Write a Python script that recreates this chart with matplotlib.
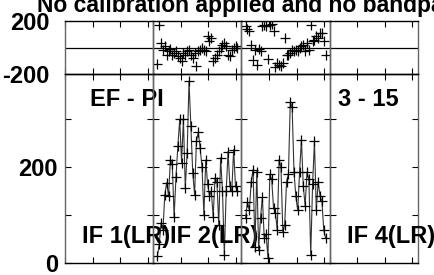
import numpy as np
import matplotlib
matplotlib.use("Agg")
import matplotlib.pyplot as plt

plt.rcParams["font.family"] = ["Liberation Sans", "DejaVu Sans"]
plt.rcParams["font.weight"] = "bold"

# === DATA
title = "No calibration applied and no bandpass applied"
if_labels = ["IF 1(LR)", "IF 2(LR)", "", "IF 4(LR)"]

# IF 2 amplitude and phase
amp_if2 = [14, 40, 84, 70, 143, 168, 140, 216, 206, 97, 180, 244, 300, 210, 300,
           157, 230, 380, 286, 189, 143, 255, 273, 240, 200, 101, 215, 165, 140,
           150, 97, 178, 170, 80, 220, 150, 17, 150, 233, 160, 150, 237, 160, 150]
phs_if2 = [-125, 172, 34, -16, 10, -54, -30, -10, -54, -40, -30, -65, -79, -102,
           -45, -54, -30, -16, -54, -79, -45, -140, -30, -16, -5, -16, -30, 87,
           49, 70, -102, -79, -54, -30, -5, 21, 34, 10, -54, -65, -16, -5, 10, 0]

# IF 3 amplitude and phase
amp_if3 = [95, 128, 110, 170, 195, 34, 191, 27, 95, 137, 52, 60, 10, 185, 175,
           115, 105, 69, 216, 200, 65, 80, 170, 185, 336, 326, 190, 139, 110,
           190, 258, 160, 120, 190, 175, 17, 165, 254, 110, 170, 140, 130, 69, 52]
phs_if3 = [160, 140, 122, 21, -92, -16, -130, -10, -30, 160, 172, 160, -90, 172,
           178, 122, -150, -120, -130, -143, -120, 72, -60, -60, -45, -16, -30,
           -16, -30, -5, 10, 21, -30, 34, -16, 172, 49, 60, 87, 72, 110, 110, 49, -54]

amps = [None, amp_if2, amp_if3, None]
phases = [None, phs_if2, phs_if3, None]

# === FIGURE
fig = plt.figure(figsize=(4.35, 2.75), dpi=100)
W, H = 435.0, 275.0
x0, pw = 65.0, 88.25
top_y0, top_y1 = 21.0, 74.0
bot_y1 = 263.0

def style(ax):
    ax.tick_params(direction="in", top=True, right=True, length=4, width=0.8,
                   labelsize=17, pad=5)
    for s in ["left", "right"]:
        ax.spines[s].set_color("#666666")
    for s in ax.spines.values():
        s.set_linewidth(1.0)

for i in range(4):
    left = (x0 + i * pw) / W
    # Phase panel
    axp = fig.add_axes([left, 1 - top_y1 / H, pw / W, (top_y1 - top_y0) / H],
                       facecolor="none")
    axp.set_xlim(0, 32)
    axp.set_ylim(-200, 200)
    axp.axhline(0, color="k", lw=0.9)
    axp.set_xticks([0, 10, 20, 30])
    axp.set_xticklabels([])
    axp.set_yticks([-200, 200])
    if i == 0:
        axp.set_yticklabels(["-200", "200"], fontweight="bold")
    else:
        axp.set_yticklabels([])
    style(axp)
    axp.tick_params(axis="y", length=0, pad=11)

    # Amplitude panel
    axa = fig.add_axes([left, 1 - bot_y1 / H, pw / W, (bot_y1 - top_y1) / H],
                       facecolor="none")
    axa.set_xlim(0, 32)
    axa.set_ylim(0, 395)
    axa.set_xticks([0, 10, 20, 30])
    axa.set_xticklabels([])
    axa.set_yticks([0, 100, 200, 300])
    if i == 0:
        axa.set_yticklabels(["0", "", "200", ""], fontweight="bold")
    else:
        axa.set_yticklabels([])
    style(axa)

    if amps[i] is not None:
        ch = np.linspace(1.5, 30.5, len(amps[i]))
        axa.plot(ch, amps[i], color="#333333", lw=0.8, marker="+", ms=7,
                 mec="k", mew=0.9)
        axp.plot(ch, phases[i], ls="none", marker="+", ms=7, mec="k", mew=0.9)

    if if_labels[i]:
        axa.text(0.19, 0.14, if_labels[i], transform=axa.transAxes,
                 fontsize=17, fontweight="bold", ha="left", va="center",
                 zorder=10)
    if i == 0:
        axa.text(0.28, 0.865, "EF - PI", transform=axa.transAxes,
                 fontsize=17, fontweight="bold", ha="left", va="center")
    if i == 3:
        axa.text(0.09, 0.865, "3 - 15", transform=axa.transAxes,
                 fontsize=17, fontweight="bold", ha="left", va="center")

fig.text(37 / W, 1 - 12 / H, title, fontsize=16.5, fontweight="bold",
         ha="left", va="baseline")

plt.savefig("out.png", dpi=100)
